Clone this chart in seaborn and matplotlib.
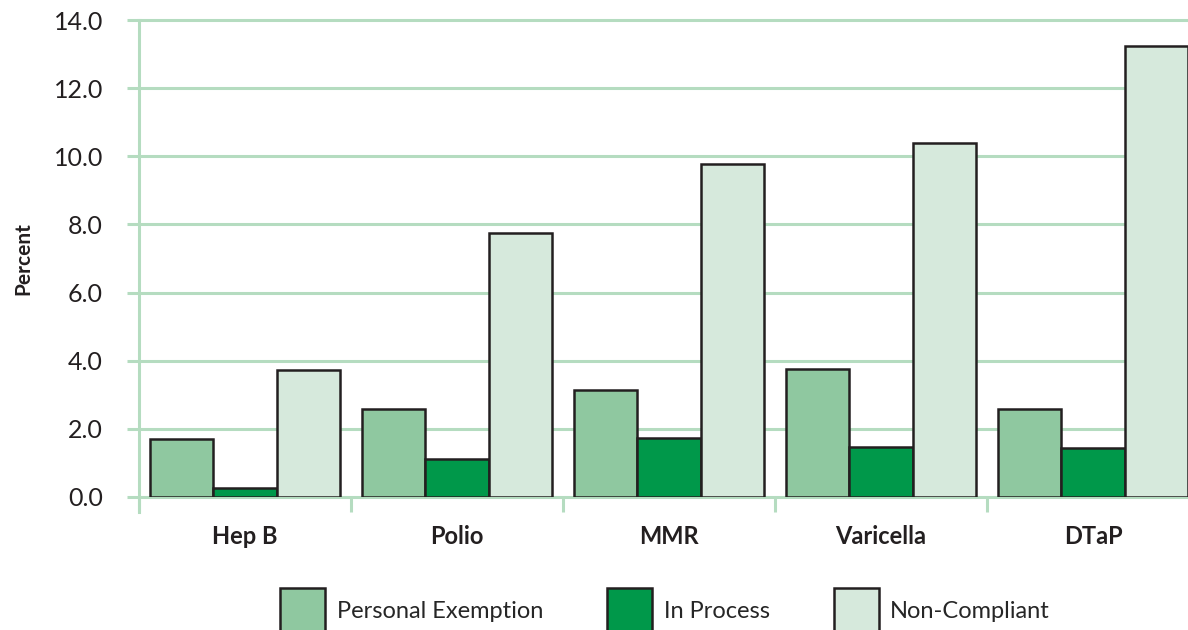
import pandas as pd
import matplotlib
matplotlib.use("Agg")
import matplotlib.pyplot as plt
import seaborn as sns

# data
vaccines = ["Hep B", "Polio", "MMR", "Varicella", "DTaP"]
personal_exemption = [1.70, 2.58, 3.14, 3.76, 2.58]
in_process = [0.26, 1.12, 1.73, 1.47, 1.44]
non_compliant = [3.73, 7.75, 9.77, 10.39, 13.24]
series_names = ["Personal Exemption", "In Process", "Non-Compliant"]
y_ticks = [0, 2, 4, 6, 8, 10, 12, 14]

colors = ["#8fc8a0", "#00984a", "#d6e9dc"]
grid_green = "#b5dcc0"
edge = "#231f20"

df = pd.DataFrame({
    "Vaccine": vaccines * 3,
    "Status": [s for s in series_names for _ in vaccines],
    "Percent": personal_exemption + in_process + non_compliant,
})

sns.set_style("white")
plt.rcParams["font.family"] = ["Lato", "DejaVu Sans"]

fig = plt.figure(figsize=(11.88, 6.3), dpi=100)
ax = fig.add_axes([139 / 1188, (630 - 497) / 630, 1060 / 1188, 477 / 630])

sns.barplot(data=df, x="Vaccine", y="Percent", hue="Status", order=vaccines,
            hue_order=series_names, palette=colors, width=0.9, gap=0,
            edgecolor=edge, linewidth=1.8, saturation=1, ax=ax, zorder=3)

ax.set_xlim(-0.5, 4.5)
ax.set_ylim(0, 14)
ax.set_yticks(y_ticks)
ax.set_yticklabels([f"{v:.1f}" for v in y_ticks], fontsize=18, color="#231f20")
ax.yaxis.grid(True, color=grid_green, linewidth=2.2, zorder=0, clip_on=False)
ax.tick_params(axis="y", length=9, width=2.2, color=grid_green, pad=17, left=True)

ax.set_xticks(range(len(vaccines)))
ax.set_xticklabels(vaccines, fontsize=17, fontweight="bold", color="#231f20")
ax.set_xticks([i - 0.5 for i in range(len(vaccines) + 1)], minor=True)
ax.tick_params(axis="x", which="major", length=0, pad=20)
ax.tick_params(axis="x", which="minor", length=11, width=2.2, color=grid_green, bottom=True)

for side in ["top", "right", "bottom"]:
    ax.spines[side].set_visible(False)
ax.spines["left"].set_color(grid_green)
ax.spines["left"].set_linewidth(2.2)
ax.spines["left"].set_bounds(-0.45, 14)

ax.set_xlabel("")
ax.set_ylabel("Percent", fontsize=15, fontweight="bold", color="#231f20")
ax.yaxis.set_label_coords(-0.100, 0.5)

handles, labels = ax.get_legend_handles_labels()
ax.legend_.remove()
fig.legend(handles, labels, loc="upper center", bbox_to_anchor=(0.56, 0.0667),
           ncol=3, frameon=False, fontsize=17, handlelength=1.9, handleheight=2.6,
           handletextpad=0.5, columnspacing=2.7, borderpad=0, borderaxespad=0)

fig.savefig("out.png", dpi=100)
